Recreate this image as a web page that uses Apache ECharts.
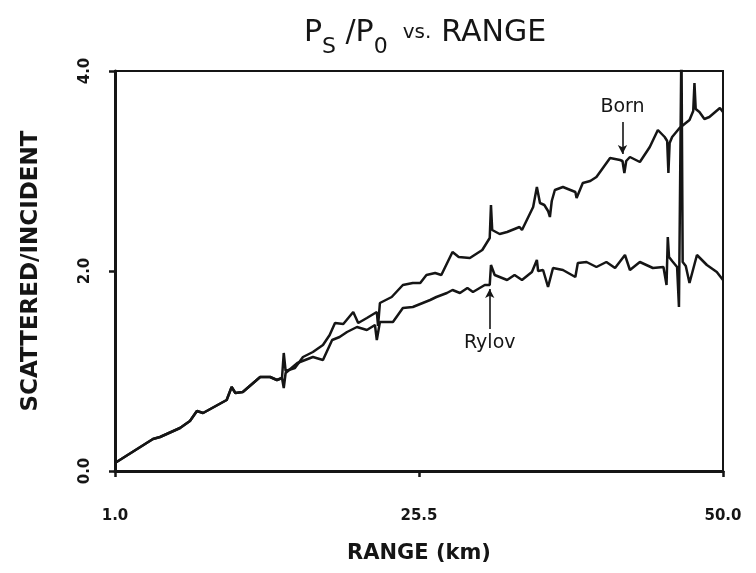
<!DOCTYPE html>
<html>
<head>
<meta charset="utf-8">
<script src="https://cdn.jsdelivr.net/npm/echarts@6/dist/echarts.min.js"></script>
<style>
  html, body { margin: 0; padding: 0; background: #fff; }
  #chart { width: 756px; height: 573px; }
</style>
</head>
<body>
<div id="chart"></div>
<script>
// range (km) and scattered/incident ratio
const bornX = [1.0, 4.06, 4.63, 6.24, 7.04, 7.6, 8.1, 10.0, 10.4, 10.7,
  11.3, 12.7, 13.5, 14.05, 14.46, 14.6, 14.75, 15.5, 16.15, 16.95,
  17.76, 18.3, 18.73, 19.4, 20.2, 20.6, 21.3, 22.1, 22.2, 22.35,
  23.3, 24.2, 25.0, 25.6, 26.1, 26.8, 27.3, 28.2, 28.7, 29.6,
  30.6, 31.2, 31.3, 31.4, 32.0, 32.6, 33.6, 33.8, 34.7, 35.0,
  35.25, 35.6, 35.9, 36.05, 36.2, 36.45, 37.1, 38.1, 38.2, 38.7,
  39.3, 39.8, 40.9, 41.7, 41.9, 42.05, 42.2, 42.5, 43.3, 44.1,
  44.75, 45.3, 45.5, 45.6, 45.7, 45.9, 46.5, 47.3, 47.6, 47.7,
  47.8, 48.1, 48.5, 48.9, 49.75, 50.0]
const bornY = [0.08, 0.32, 0.34, 0.43, 0.50, 0.60, 0.58, 0.71, 0.84, 0.78,
  0.79, 0.94, 0.94, 0.91, 0.93, 1.18, 1.00, 1.03, 1.14, 1.19,
  1.26, 1.36, 1.48, 1.47, 1.59, 1.48, 1.53, 1.59, 1.45, 1.68,
  1.74, 1.86, 1.88, 1.88, 1.96, 1.98, 1.96, 2.19, 2.14, 2.13,
  2.21, 2.33, 2.66, 2.41, 2.37, 2.39, 2.44, 2.41, 2.64, 2.84,
  2.68, 2.66, 2.60, 2.54, 2.70, 2.81, 2.84, 2.79, 2.73, 2.88,
  2.90, 2.94, 3.13, 3.11, 3.10, 2.98, 3.10, 3.14, 3.09, 3.24,
  3.41, 3.34, 3.30, 2.98, 3.28, 3.34, 3.43, 3.51, 3.60, 3.88,
  3.62, 3.59, 3.52, 3.54, 3.63, 3.59]

const rylovX = [1.0, 4.06, 4.63, 6.24, 7.04, 7.6, 8.1, 10.0, 10.4, 10.7,
  11.3, 12.7, 13.5, 14.05, 14.46, 14.6, 14.75, 15.7, 16.95, 17.76,
  17.9, 18.5, 19.1, 19.7, 20.5, 21.3, 21.95, 22.1, 22.35, 23.4,
  24.2, 25.0, 25.8, 26.4, 26.9, 27.75, 28.2, 28.8, 29.4, 29.85,
  30.8, 31.2, 31.3, 31.6, 32.6, 33.2, 33.8, 34.6, 35.0, 35.1,
  35.5, 35.9, 36.3, 37.1, 38.1, 38.3, 39.0, 39.8, 40.6, 41.3,
  42.1, 42.5, 43.3, 44.35, 45.2, 45.45, 45.55, 45.65, 45.9, 46.3,
  46.45, 46.65, 46.75, 47.0, 47.3, 47.9, 48.7, 49.5, 50.0]
const rylovY = [0.08, 0.32, 0.34, 0.43, 0.50, 0.60, 0.58, 0.71, 0.84, 0.78,
  0.79, 0.94, 0.94, 0.91, 0.93, 0.83, 0.98, 1.08, 1.14, 1.11,
  1.09, 1.31, 1.34, 1.39, 1.44, 1.41, 1.46, 1.31, 1.49, 1.49,
  1.63, 1.64, 1.68, 1.71, 1.74, 1.78, 1.81, 1.78, 1.83, 1.79,
  1.86, 1.86, 2.06, 1.96, 1.91, 1.96, 1.91, 1.99, 2.11, 2.00,
  2.01, 1.84, 2.03, 2.01, 1.94, 2.08, 2.09, 2.04, 2.09, 2.03,
  2.16, 2.01, 2.09, 2.03, 2.04, 1.86, 2.34, 2.14, 2.10, 2.04,
  1.64, 4.3, 2.09, 2.05, 1.88, 2.16, 2.06, 1.99, 1.91]

const xTicks = [1.0, 25.5, 50.0]
const yTicks = [0, 2, 4]

// label arrows: [x, yFrom, yTo]
const bornArrow = [41.9, 3.49, 3.17]
const rylovArrow = [31.2, 1.42, 1.82]

const INK = '#151515'
const FONT = 'DejaVu Sans'

const chart = echarts.init(document.getElementById('chart'))

const arrowLine = (a, name) => ({
  silent: true,
  symbol: ['none', 'arrow'],
  symbolSize: [7, 9],
  lineStyle: { color: INK, width: 1.6, type: 'solid' },
  label: {
    show: true,
    position: 'start',
    formatter: name,
    color: INK,
    fontFamily: FONT,
    fontSize: 19,
    distance: 5
  },
  data: [[{ coord: [a[0], a[1]] }, { coord: [a[0], a[2]] }]]
})

const option = {
  animation: false,
  backgroundColor: '#fff',
  title: {
    left: 420,
    top: 3,
    textAlign: 'center',
    text: '{p|P}{s|S}{p| /P}{s|0}   {v|vs.}  {p|RANGE}',
    textStyle: {
      fontWeight: 'normal',
      rich: {
        p: { fontFamily: FONT, fontWeight: 'normal', fontSize: 30, color: INK, lineHeight: 36 },
        s: { fontFamily: FONT, fontWeight: 'normal', fontSize: 22, color: INK, padding: [28, 0, 0, 0] },
        v: { fontFamily: FONT, fontWeight: 'normal', fontSize: 20, color: INK, lineHeight: 36 }
      }
    }
  },
  grid: {
    left: 115,
    right: 33,
    top: 71,
    bottom: 102,
    show: true,
    borderColor: INK,
    borderWidth: 2,
    backgroundColor: 'transparent'
  },
  xAxis: {
    type: 'value',
    min: 1,
    max: 50,
    name: 'RANGE (km)',
    nameLocation: 'middle',
    nameGap: 72,
    nameTextStyle: { fontFamily: FONT, fontWeight: 'bold', fontSize: 21, color: INK },
    axisLine: { show: true, lineStyle: { color: INK, width: 3 } },
    axisTick: { show: true, customValues: xTicks, length: 6, lineStyle: { color: INK, width: 2.5 } },
    axisLabel: {
      customValues: xTicks,
      margin: 38,
      color: INK,
      fontFamily: FONT,
      fontWeight: 'bold',
      fontSize: 15,
      formatter: v => v.toFixed(1)
    },
    splitLine: { show: false }
  },
  yAxis: {
    type: 'value',
    min: 0,
    max: 4,
    interval: 2,
    name: 'SCATTERED/INCIDENT',
    nameLocation: 'middle',
    nameRotate: 90,
    nameGap: 72,
    nameTextStyle: { fontFamily: FONT, fontWeight: 'bold', fontSize: 23, color: INK },
    axisLine: { show: true, lineStyle: { color: INK, width: 3 } },
    axisTick: { show: true, customValues: yTicks, length: 6, lineStyle: { color: INK, width: 2.5 } },
    axisLabel: {
      rotate: 90,
      margin: 22,
      color: INK,
      fontFamily: FONT,
      fontWeight: 'bold',
      fontSize: 15,
      formatter: v => v.toFixed(1)
    },
    splitLine: { show: false }
  },
  series: [
    {
      name: 'Born',
      type: 'line',
      data: bornX.map((x, i) => [x, bornY[i]]),
      showSymbol: false,
      clip: true,
      lineStyle: { color: INK, width: 2.5 },
      markLine: arrowLine(bornArrow, 'Born')
    },
    {
      name: 'Rylov',
      type: 'line',
      data: rylovX.map((x, i) => [x, rylovY[i]]),
      showSymbol: false,
      clip: true,
      lineStyle: { color: INK, width: 2.5 },
      markLine: arrowLine(rylovArrow, 'Rylov')
    }
  ]
}

chart.setOption(option)
</script>
</body>
</html>
